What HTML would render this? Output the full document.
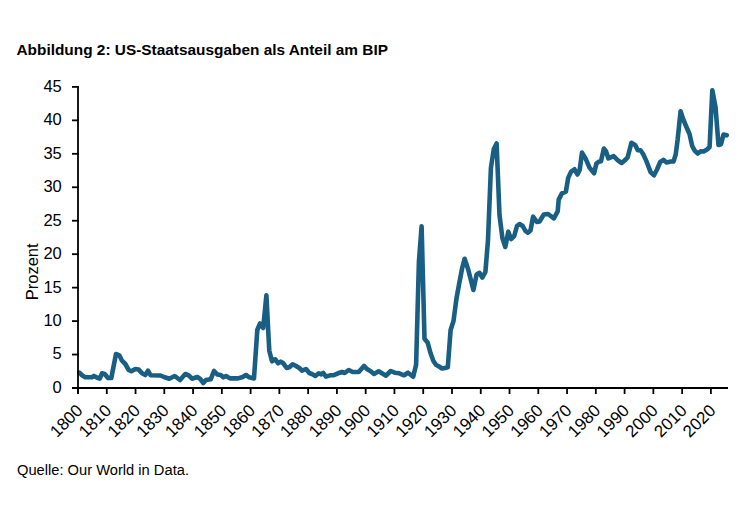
<!DOCTYPE html>
<html><head><meta charset="utf-8"><style>
html,body{margin:0;padding:0;background:#fff;}
body{width:750px;height:522px;overflow:hidden;position:relative;}
svg{position:absolute;left:0;top:0;}
text{font-family:"Liberation Sans",sans-serif;fill:#000;}
.yl{font-size:16.5px;}
.xl{font-size:17px;}
.t{font-size:15.4px;font-weight:bold;}
.f{font-size:14.7px;}
</style></head><body>
<svg width="750" height="522" viewBox="0 0 750 522">
<text class="t" x="16.5" y="54.7">Abbildung 2: US-Staatsausgaben als Anteil am BIP</text>
<text class="yl" transform="translate(38.0,271.8) rotate(-90)" text-anchor="middle">Prozent</text>
<path d="M79.4,372.6 L82.3,375.5 L85.2,377.2 L92.0,377.2 L94.0,375.9 L97.3,377.8 L99.7,378.6 L102.0,373.3 L104.7,374.0 L108.0,378.0 L111.3,378.0 L116.0,354.0 L119.3,355.3 L122.0,360.7 L125.3,364.0 L128.7,370.0 L131.3,371.3 L135.3,369.0 L138.7,369.6 L142.0,373.3 L145.3,375.0 L148.0,370.7 L150.7,375.3 L160.5,375.5 L164.0,377.0 L169.3,378.7 L174.7,376.0 L180.0,380.0 L185.3,374.0 L188.7,375.3 L192.0,378.7 L197.3,377.0 L200.0,378.7 L203.3,383.0 L206.0,380.0 L210.7,379.3 L214.0,371.0 L217.3,374.4 L220.7,375.0 L223.3,377.3 L226.0,376.0 L230.0,378.4 L238.0,378.4 L242.7,377.0 L246.0,375.0 L249.3,377.3 L254.0,378.4 L257.3,330.0 L260.0,323.5 L263.2,328.0 L266.4,295.3 L268.7,340.0 L269.3,350.7 L272.0,361.3 L275.3,359.3 L278.0,363.3 L280.7,361.6 L283.3,363.3 L286.7,368.0 L289.3,367.3 L292.7,364.3 L296.0,366.0 L299.3,368.0 L302.0,370.7 L306.0,369.0 L309.3,373.0 L312.7,374.4 L315.3,376.0 L318.7,373.3 L321.3,374.4 L323.3,373.0 L326.0,376.7 L330.0,375.3 L333.3,375.3 L338.0,373.3 L342.0,372.0 L344.7,373.0 L348.7,370.0 L352.7,372.0 L358.7,372.0 L364.0,366.0 L367.3,369.3 L370.7,371.3 L374.0,374.0 L378.7,371.3 L386.0,375.7 L390.7,371.0 L394.7,372.7 L399.3,373.3 L404.0,375.3 L408.0,372.7 L413.2,376.7 L416.1,364.8 L418.9,262.0 L421.6,226.3 L424.5,338.7 L427.6,342.4 L430.5,353.0 L433.4,361.0 L436.2,365.0 L439.1,366.5 L442.0,368.5 L444.9,368.0 L447.8,367.3 L450.6,330.0 L453.5,321.0 L456.4,299.0 L459.3,283.0 L462.2,268.0 L464.6,258.8 L468.2,269.5 L473.4,290.0 L476.6,274.4 L479.4,272.8 L482.3,277.6 L485.4,272.0 L488.0,240.0 L490.9,168.0 L493.8,149.0 L496.6,143.5 L499.5,215.0 L502.4,238.0 L505.3,247.0 L508.3,231.7 L511.1,239.0 L514.2,236.0 L517.0,226.0 L519.5,224.0 L522.7,226.0 L525.5,231.0 L527.8,232.7 L530.5,230.5 L533.1,216.7 L536.9,222.0 L539.5,221.5 L543.8,214.5 L548.1,214.0 L553.9,218.3 L557.7,211.3 L558.7,199.6 L561.9,193.4 L565.9,191.7 L568.2,177.9 L571.1,171.6 L574.5,169.3 L577.4,174.5 L579.7,169.9 L582.0,152.6 L585.5,158.4 L589.5,167.6 L594.1,173.3 L596.4,163.6 L598.7,161.8 L601.0,161.3 L603.9,148.6 L606.1,151.5 L608.4,158.4 L613.6,156.1 L617.6,160.1 L621.7,163.0 L625.1,160.1 L627.7,157.2 L631.4,142.8 L635.1,144.9 L637.8,150.3 L640.5,150.3 L643.1,154.0 L646.3,160.9 L650.6,172.1 L654.0,175.3 L657.0,169.5 L660.2,162.0 L663.4,159.9 L666.6,162.5 L670.9,161.5 L673.5,161.5 L675.7,154.5 L677.6,140.0 L680.6,111.3 L682.9,118.5 L686.0,126.0 L689.5,134.0 L692.2,146.0 L694.8,150.8 L697.8,153.5 L700.7,151.3 L703.6,151.5 L707.0,149.5 L709.6,147.0 L712.3,90.3 L715.5,107.0 L718.5,145.0 L721.0,144.2 L723.5,134.5 L726.8,135.3" fill="none" stroke="#195f84" stroke-width="4.6" stroke-linejoin="round" stroke-linecap="round"/>
<g stroke="#000" stroke-width="1.8" fill="none">
<line x1="78" y1="86" x2="78" y2="394" />
<line x1="72" y1="388" x2="728" y2="388" />
</g>
<g stroke="#000" stroke-width="1.8">
<line x1="72" y1="388.00" x2="78.9" y2="388.00" />
<line x1="72" y1="354.54" x2="78.9" y2="354.54" />
<line x1="72" y1="321.09" x2="78.9" y2="321.09" />
<line x1="72" y1="287.63" x2="78.9" y2="287.63" />
<line x1="72" y1="254.18" x2="78.9" y2="254.18" />
<line x1="72" y1="220.72" x2="78.9" y2="220.72" />
<line x1="72" y1="187.27" x2="78.9" y2="187.27" />
<line x1="72" y1="153.81" x2="78.9" y2="153.81" />
<line x1="72" y1="120.36" x2="78.9" y2="120.36" />
<line x1="72" y1="86.90" x2="78.9" y2="86.90" />
<line x1="78.00" y1="387" x2="78.00" y2="394" />
<line x1="106.77" y1="387" x2="106.77" y2="394" />
<line x1="135.54" y1="387" x2="135.54" y2="394" />
<line x1="164.30" y1="387" x2="164.30" y2="394" />
<line x1="193.07" y1="387" x2="193.07" y2="394" />
<line x1="221.84" y1="387" x2="221.84" y2="394" />
<line x1="250.61" y1="387" x2="250.61" y2="394" />
<line x1="279.38" y1="387" x2="279.38" y2="394" />
<line x1="308.14" y1="387" x2="308.14" y2="394" />
<line x1="336.91" y1="387" x2="336.91" y2="394" />
<line x1="365.68" y1="387" x2="365.68" y2="394" />
<line x1="394.45" y1="387" x2="394.45" y2="394" />
<line x1="423.22" y1="387" x2="423.22" y2="394" />
<line x1="451.98" y1="387" x2="451.98" y2="394" />
<line x1="480.75" y1="387" x2="480.75" y2="394" />
<line x1="509.52" y1="387" x2="509.52" y2="394" />
<line x1="538.29" y1="387" x2="538.29" y2="394" />
<line x1="567.06" y1="387" x2="567.06" y2="394" />
<line x1="595.82" y1="387" x2="595.82" y2="394" />
<line x1="624.59" y1="387" x2="624.59" y2="394" />
<line x1="653.36" y1="387" x2="653.36" y2="394" />
<line x1="682.13" y1="387" x2="682.13" y2="394" />
<line x1="710.90" y1="387" x2="710.90" y2="394" />
</g>
<text class="yl" x="61.8" y="392.90" text-anchor="end">0</text>
<text class="yl" x="61.8" y="359.44" text-anchor="end">5</text>
<text class="yl" x="61.8" y="325.99" text-anchor="end">10</text>
<text class="yl" x="61.8" y="292.53" text-anchor="end">15</text>
<text class="yl" x="61.8" y="259.08" text-anchor="end">20</text>
<text class="yl" x="61.8" y="225.62" text-anchor="end">25</text>
<text class="yl" x="61.8" y="192.17" text-anchor="end">30</text>
<text class="yl" x="61.8" y="158.71" text-anchor="end">35</text>
<text class="yl" x="61.8" y="125.26" text-anchor="end">40</text>
<text class="yl" x="61.8" y="91.80" text-anchor="end">45</text>
<text class="xl" text-anchor="end" transform="translate(83.70,411.50) rotate(-45)">1800</text>
<text class="xl" text-anchor="end" transform="translate(112.47,411.50) rotate(-45)">1810</text>
<text class="xl" text-anchor="end" transform="translate(141.24,411.50) rotate(-45)">1820</text>
<text class="xl" text-anchor="end" transform="translate(170.00,411.50) rotate(-45)">1830</text>
<text class="xl" text-anchor="end" transform="translate(198.77,411.50) rotate(-45)">1840</text>
<text class="xl" text-anchor="end" transform="translate(227.54,411.50) rotate(-45)">1850</text>
<text class="xl" text-anchor="end" transform="translate(256.31,411.50) rotate(-45)">1860</text>
<text class="xl" text-anchor="end" transform="translate(285.08,411.50) rotate(-45)">1870</text>
<text class="xl" text-anchor="end" transform="translate(313.84,411.50) rotate(-45)">1880</text>
<text class="xl" text-anchor="end" transform="translate(342.61,411.50) rotate(-45)">1890</text>
<text class="xl" text-anchor="end" transform="translate(371.38,411.50) rotate(-45)">1900</text>
<text class="xl" text-anchor="end" transform="translate(400.15,411.50) rotate(-45)">1910</text>
<text class="xl" text-anchor="end" transform="translate(428.92,411.50) rotate(-45)">1920</text>
<text class="xl" text-anchor="end" transform="translate(457.68,411.50) rotate(-45)">1930</text>
<text class="xl" text-anchor="end" transform="translate(486.45,411.50) rotate(-45)">1940</text>
<text class="xl" text-anchor="end" transform="translate(515.22,411.50) rotate(-45)">1950</text>
<text class="xl" text-anchor="end" transform="translate(543.99,411.50) rotate(-45)">1960</text>
<text class="xl" text-anchor="end" transform="translate(572.76,411.50) rotate(-45)">1970</text>
<text class="xl" text-anchor="end" transform="translate(601.52,411.50) rotate(-45)">1980</text>
<text class="xl" text-anchor="end" transform="translate(630.29,411.50) rotate(-45)">1990</text>
<text class="xl" text-anchor="end" transform="translate(659.06,411.50) rotate(-45)">2000</text>
<text class="xl" text-anchor="end" transform="translate(687.83,411.50) rotate(-45)">2010</text>
<text class="xl" text-anchor="end" transform="translate(716.60,411.50) rotate(-45)">2020</text>
<text class="f" x="17.0" y="474.8">Quelle: Our World in Data.</text>
</svg>
</body></html>
